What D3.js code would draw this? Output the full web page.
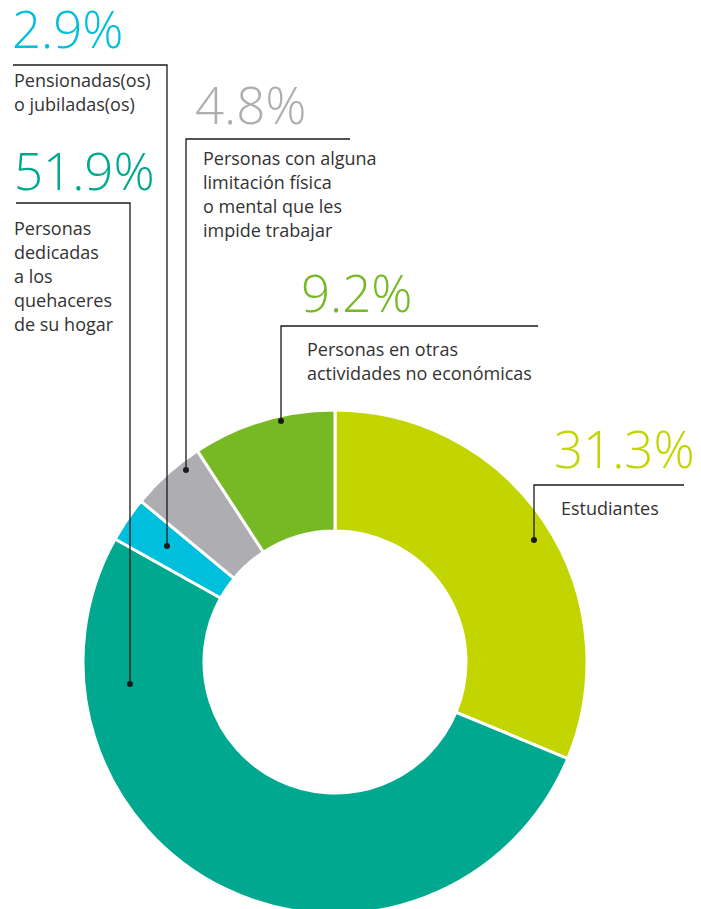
<!DOCTYPE html>
<html>
<head>
<meta charset="utf-8">
<script src="https://cdn.jsdelivr.net/npm/d3@7"></script>
<style>
  html, body { margin: 0; padding: 0; background: #fff; }
  svg { display: block; }
</style>
</head>
<body>
<script>
// ---- Data ----
const categories = [
  "Estudiantes",
  "Personas dedicadas a los quehaceres de su hogar",
  "Pensionadas(os) o jubiladas(os)",
  "Personas con alguna limitación física o mental que les impide trabajar",
  "Personas en otras actividades no económicas"
];
const values = [31.3, 51.9, 2.9, 4.8, 9.2];
const pctLabels = ["31.3%", "51.9%", "2.9%", "4.8%", "9.2%"];
const labelLines = [
  ["Estudiantes"],
  ["Personas", "dedicadas", "a los", "quehaceres", "de su hogar"],
  ["Pensionadas(os)", "o jubiladas(os)"],
  ["Personas con alguna", "limitación física", "o mental que les", "impide trabajar"],
  ["Personas en otras", "actividades no económicas"]
];
const colors = ["#c2d500", "#00a88f", "#00bfdc", "#aeadb1", "#76b924"];

// ---- Layout (annotation placement) ----
const W = 701, H = 909;
const cx = 335, cy = 662, rOuter = 252, rInner = 131;
const annot = [
  { numX: 554, numY: 468, lineY: 485, x0: 534, x1: 684, dotY: 540, tx: 561, ty: 515 },
  { numX: 14,  numY: 190, lineY: 203, x0: 16,  x1: 130, dotY: 684, tx: 14,  ty: 235, anchorRight: true },
  { numX: 12,  numY: 48,  lineY: 65,  x0: 13,  x1: 167, dotY: 546, tx: 14,  ty: 87,  anchorRight: true },
  { numX: 195, numY: 124, lineY: 139, x0: 186, x1: 350, dotY: 470, tx: 203, ty: 165 },
  { numX: 301, numY: 312, lineY: 326, x0: 281, x1: 538, dotY: 421, tx: 307, ty: 356 }
];

const svg = d3.select("body").append("svg")
  .attr("width", W).attr("height", H);

const pie = d3.pie().sort(null).value(d => d);
const arc = d3.arc().innerRadius(rInner).outerRadius(rOuter);

const g = svg.append("g").attr("transform", `translate(${cx},${cy})`);
g.selectAll("path")
  .data(pie(values))
  .join("path")
  .attr("d", arc)
  .attr("fill", (d, i) => colors[i])
  .attr("stroke", "#fff")
  .attr("stroke-width", 3)
  .attr("stroke-linejoin", "miter");

// ---- Annotations ----
const ag = svg.append("g");
annot.forEach((a, i) => {
  const ax = a.anchorRight ? a.x1 : a.x0;
  ag.append("path")
    .attr("d", `M${a.anchorRight ? a.x0 : a.x1},${a.lineY}H${ax}V${a.dotY}`)
    .attr("fill", "none")
    .attr("stroke", "#1a1a1a")
    .attr("stroke-width", 1.3);
  ag.append("circle")
    .attr("cx", ax).attr("cy", a.dotY).attr("r", 3)
    .attr("fill", "#1a1a1a");

  ag.append("text")
    .attr("x", a.numX).attr("y", a.numY)
    .attr("fill", colors[i])
    .attr("font-family", "'Open Sans', sans-serif")
    .attr("font-weight", 300)
    .attr("font-size", 51)
    .text(pctLabels[i]);

  const t = ag.append("text")
    .attr("font-family", "'Open Sans', sans-serif")
    .attr("font-size", 18)
    .attr("fill", "#333");
  labelLines[i].forEach((ln, k) => {
    t.append("tspan")
      .attr("x", a.tx)
      .attr("y", a.ty + k * 24)
      .text(ln);
  });
});
</script>
</body>
</html>
